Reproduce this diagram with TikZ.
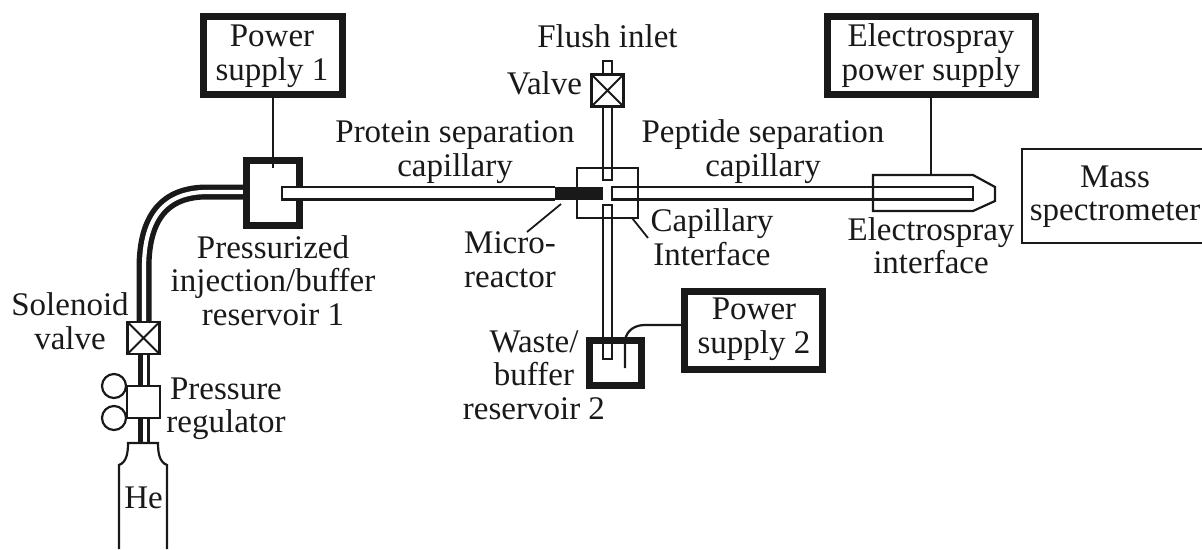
\documentclass[tikz,border=0pt]{standalone}
\usepackage{fontspec}
\setmainfont{Liberation Serif}
\begin{document}
\begin{tikzpicture}[x=1pt,y=-1pt,
  lbl/.style={inner sep=0pt,outer sep=0pt,align=center,anchor=base,font=\fontsize{33}{33.3}\selectfont,text=black!90},
  box/.style={draw=black!90,inner sep=0pt,outer sep=0pt,line width=2.2pt},
  thickbox/.style={box,line width=7pt},
  valvebox/.style={box,line width=2.6pt,minimum width=32pt,minimum height=32pt,
    path picture={\draw[line width=2pt] (path picture bounding box.south west)--(path picture bounding box.north east)
      (path picture bounding box.north west)--(path picture bounding box.south east);}},
  wire/.style={draw=black!90,line width=2.2pt},
  lead/.style={draw=black!90,line width=1.8pt}]
\useasboundingbox (0,0) rectangle (1202,549);
% He tube
\coordinate (tubeA) at (243,192);
\coordinate (tubeB) at (144,322);
\draw[line width=15pt,black!90] (tubeA) -- (207,192) .. controls (165,192) and (144,217) .. (144,268) -- (tubeB);
\draw[line width=4.2pt,white] (tubeA) -- (207,192) .. controls (165,192) and (144,217) .. (144,268) -- (tubeB);
% reservoirs and boxes
\node[thickbox,minimum width=139pt,minimum height=78pt] (ps1) at (273,55.5) {};
\node[thickbox,minimum width=53pt,minimum height=65pt] (res1) at (273,193) {};
\node[box,minimum width=61pt,minimum height=50pt] (iface) at (607.5,193) {};
\node[thickbox,minimum width=52pt,minimum height=45pt] (res2) at (615.5,363) {};
\node[thickbox,minimum width=138pt,minimum height=78pt] (ps2) at (753.5,330.5) {};
\node[thickbox,minimum width=208pt,minimum height=78pt] (eps) at (931.5,55.5) {};
\node[box,minimum width=190pt,minimum height=94pt] (ms) at (1117,196) {};
% capillaries
\draw[wire,fill=white] (555,187) -- (282,187) -- (282,199.5) -- (555,199.5);
\fill[black!90] (555,186.5) rectangle (603,200);
\draw[wire] (973,187) -- (612,187) -- (612,199.5) -- (973,199.5) -- cycle;
\draw[wire] (603,107) -- (603,180) -- (612,180) -- (612,107);
\draw[wire] (603,74) -- (603,61) -- (612,61) -- (612,74);
\draw[wire] (603,340) -- (603,205) -- (612,205) -- (612,340);
\draw[wire] (603,340) -- (603,359) -- (612,359) -- (612,340);
\node[valvebox] (valveT) at (607.5,90.5) {};
% regulator stack
\draw[line width=5pt,black!90] (140,354) -- (140,386) (140,418) -- (140,443);
\draw[line width=3.5pt,black!90] (148.5,354) -- (148.5,386) (148.5,418) -- (148.5,443);
\node[valvebox] (valveS) at (143.5,338) {};
\node[box,minimum width=33pt,minimum height=32pt] (reg) at (143.5,402) {};
\node[box,circle,minimum size=24pt] (g1) at (114,386) {};
\node[box,circle,minimum size=24pt] (g2) at (114,418) {};
\draw[wire] (119,549) -- (119,465) .. controls (127,462) and (128,452) .. (128,443) -- (158,443) .. controls (158,452) and (159,462) .. (167,465) -- (167,549);
% electrospray interface
\draw[wire] (973,175) -- (873,175) -- (873,211) -- (973,211) -- (995,201) -- (995,187) -- cycle;
\coordinate (espt) at (931,175);
\draw[wire] (eps.south -| espt) -- (espt);
\coordinate (ps1end) at (273,168);
\draw[wire] (ps1.south -| ps1end) -- (ps1end);
\coordinate (elec) at (625,368);
\draw[wire] (elec) -- (625,340) .. controls (627,330) and (635,325) .. (645,325) -- (ps2.west |- 0,325);
% leaders
\coordinate (mrA) at (561,204); \coordinate (mrB) at (527,232);
\draw[lead] (mrA) -- (mrB);
\coordinate (ciA) at (632,218); \coordinate (ciB) at (648,238);
\draw[lead] (ciA) -- (ciB);
% labels (anchored at the baseline of the last line)
\node[lbl] (t1) at (272,80) {Power\\supply 1};
\node[lbl] (t2) at (607.5,47) {Flush inlet};
\node[lbl,anchor=base east] (t3) at (582,94) {Valve};
\node[lbl] (t4) at (931,80) {Electrospray\\power supply};
\node[lbl] (t5) at (455,176) {Protein separation\\capillary};
\node[lbl] (t6) at (763,176) {Peptide separation\\capillary};
\node[lbl] (t7) at (1115,220.5) {Mass\\spectrometer};
\node[lbl] (t8) at (273,325) {Pressurized\\injection/buffer\\reservoir 1};
\node[lbl] (t9) at (510,287) {Micro-\\reactor};
\node[lbl] (t10) at (712,265) {Capillary\\Interface};
\node[lbl] (t11) at (931,273.5) {Electrospray\\interface};
\node[lbl] (t12) at (70,349) {Solenoid\\valve};
\node[lbl] (t13) at (226,432.5) {Pressure\\regulator};
\node[lbl] (t14) at (534,419) {Waste/\\buffer\\reservoir 2};
\node[lbl] (t15) at (754,353) {Power\\supply 2};
\node[lbl] (t16) at (143.5,508) {He};
\end{tikzpicture}
\end{document}
